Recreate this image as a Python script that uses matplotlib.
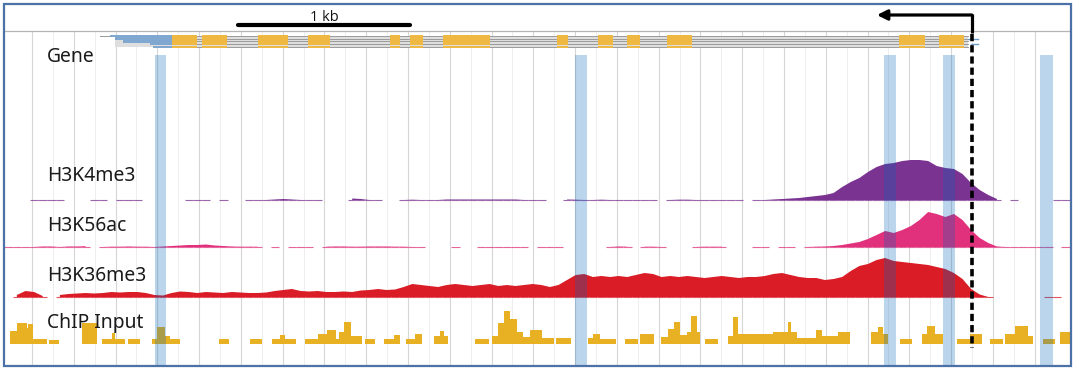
import numpy as np
import matplotlib.pyplot as plt
from matplotlib.patches import Rectangle

nan = np.nan

# ---------------- data (genomic positions in bp, 0 = left edge of panel) ----------------
BIN = 50  # bp per signal bin

# signal heights per 50 bp bin (track units = pixels of the original track), nan = no reads
k4me3 = [nan, nan, nan, 0, 0, 0, 0, nan, nan, nan,
         0, 0, nan, 0, 0, 0, nan, nan, nan, nan,
         nan, 0, 0, 0, nan, 0, nan, nan, 0, 0,
         0, 0.5, 1, 0.5, 0, 0, 0, nan, nan, nan,
         1.5, 1, 0, 0, nan, nan, 0, 0.3, 0, 0,
         0, 0.5, 0.5, 0.5, 0.5, 0.5, 0.5, 0.5, 0.5, 0.5,
         0, 0, 0, nan, nan, 0.5, 0.3, 0, 0, 0.3,
         0, 0, 0, 0, 0, 0, nan, 0, 0.3, 0.3,
         0, 0, 0, 0, 0, 0, nan, 0, 0, 0.5,
         1, 1.5, 2, 3, 4, 5, 7, 13, 18, 22,
         28, 33, 36, 37, 39, 40, 40, 39, 34, 32,
         31, 26, 17, 10, 5, 1, nan, 0, nan, nan,
         nan, nan, 0, 0]

k56ac = [0, 0, 0, 0, 0.5, 0.5, 0, 0.5, 0.5, 0.8,
         nan, 0, 0.3, 0.3, 0.5, 0.3, 0.3, 0, 0.5, 1,
         1.5, 2, 2, 2.5, 1.5, 1, 0.5, 0.3, 0.3, 0.3,
         nan, 0.3, nan, 0.3, 0.3, 0.3, nan, 0.3, 0.5, 0.5,
         0.3, 0.3, 0.5, 0.5, 0.5, 0.3, 0.3, 0, 0, nan,
         nan, nan, 0, nan, nan, 0, 0, 0, 0, 0,
         0, nan, 0, 0, 0, nan, nan, nan, nan, nan,
         0, 0.5, 0.3, nan, 0.3, 0.3, 0, nan, nan, nan,
         0, 0.3, 0.3, 0.3, nan, nan, nan, 0, 0, nan,
         0, 0, nan, 0, 0.3, 0.5, 1, 2, 3.5, 5,
         8, 12, 16, 14, 17, 21, 27, 35, 33, 30,
         33, 27, 17, 9, 4, 0.5, 0, 0, 0, 0,
         0, 0, nan, 0]

k36me3 = [nan, 2, 6, 5, 1, nan, 2, 3, 3.5, 4,
          3.5, 4, 5, 4.5, 5, 5, 4, 2, 1.5, 4,
          5.5, 5, 4, 5, 4.5, 4, 5, 4.5, 4, 4,
          4.5, 6, 7, 8, 6, 5.5, 6, 5, 5, 5.5,
          5, 6.5, 7, 8, 7, 7.5, 10, 13, 12, 11,
          10, 12, 13, 12, 11, 12, 13, 11, 12, 11,
          12, 13, 12, 10, 12, 17, 22, 23, 20, 21,
          20, 21, 20, 22, 24, 23, 20, 21, 20, 21,
          20, 19, 20, 21, 20, 19, 20, 20, 21, 23,
          24, 22, 20, 19, 19, 17, 18, 20, 26, 31,
          33, 37, 39, 36, 35, 34, 33, 32, 30, 28,
          24, 18, 8, 2.5, 0, nan, nan, nan, nan, nan,
          nan, 0, 0, nan]

# ChIP input blocks
chip_start = [35, 76, 134, 140, 169, 262, 454, 570, 628, 646, 721, 861, 890, 936, 966,
              1250, 1431, 1559, 1605, 1634, 1751, 1826, 1879, 1931, 1948, 1977, 2018,
              2099, 2210, 2268, 2338, 2390, 2501, 2536, 2559, 2739, 2838, 2873, 2908,
              2943, 2983, 3018, 3059, 3129, 3210, 3396, 3425, 3466, 3611, 3699, 3821,
              3861, 3896, 3931, 3972, 3995, 4030, 4077, 4210, 4239, 4270, 4472, 4559,
              4577, 4612, 4722, 4757, 4850, 5042, 5083, 5112, 5211, 5338, 5368, 5414,
              5542, 5618, 5734, 5821, 5879, 5955, 6042, 6141]
chip_end = [76, 134, 140, 169, 250, 320, 541, 628, 646, 704, 791, 890, 936, 966, 1024,
            1309, 1501, 1605, 1634, 1698, 1826, 1879, 1931, 1948, 1977, 2018, 2082,
            2158, 2268, 2303, 2390, 2431, 2536, 2559, 2582, 2821, 2873, 2908, 2943,
            2983, 3018, 3059, 3129, 3199, 3297, 3425, 3466, 3559, 3687, 3780, 3861,
            3896, 3931, 3972, 3995, 4030, 4047, 4152, 4239, 4270, 4472, 4559, 4577,
            4612, 4722, 4757, 4850, 4920, 5083, 5112, 5141, 5280, 5368, 5414, 5461,
            5618, 5687, 5809, 5879, 5955, 5984, 6112, 6200]
chip_height = [13, 21, 16, 20, 5, 4, 21, 5, 11, 5, 5, 5, 17, 8, 5,
               5, 5, 5, 9, 5, 5, 10, 14, 5, 12, 22, 8,
               5, 5, 9, 5, 10, 8, 13, 8, 5, 8, 21, 33,
               25, 12, 7, 14, 6, 6, 6, 10, 5, 5, 10, 7,
               15, 22, 9, 12, 28, 12, 5, 8, 27, 10, 12, 22,
               12, 6, 14, 8, 12, 12, 17, 10, 5, 10, 18, 10,
               5, 10, 5, 10, 18, 8, 5, 12]

# gene model: transcripts, 3' UTR and exons
tx_start = [558, 646, 692, 849, 867]
tx_end = [5606, 5606, 5606, 5606, 5606]
utr_end = 977
exon_start = [977, 1151, 1477, 1768, 2245, 2361, 2553, 3216, 3454, 3623, 3855, 5204, 5437]
exon_end = [1122, 1297, 1651, 1896, 2303, 2436, 2826, 3280, 3541, 3698, 4001, 5356, 5582]

# highlighted positions, TSS, scale bar
band_start = [881, 3323, 5117, 5460, 6024]
band_end = [945, 3390, 5187, 5530, 6100]
tss = 5629
arrow_tip = 5077
scalebar_start = 1361
scalebar_len = 1000

labels = ["Gene", "H3K4me3", "H3K56ac", "H3K36me3", "ChIP Input"]

# ---------------- layout (pixel rows of the figure, y down) ----------------
W, H = 1075, 369
BP_PER_PX = 6200 / 1066.0
X0 = 4


def bp(px):
    return (px - X0) * BP_PER_PX


base_k4, base_k56, base_k36, base_in = 200, 247, 297, 344
label_y = [62, 181, 231, 281, 328]
header_y = 31
band_top = 55

fig = plt.figure(figsize=(W / 100, H / 100), dpi=100)
ax = fig.add_axes([0, 0, 1, 1])
ax.set_xlim(bp(0), bp(W))
ax.set_ylim(H, 0)
ax.axis("off")

# grid
grid_x = np.arange(bp(32), 6200, 243)
ax.vlines(grid_x, header_y, 366, color="#d6d6d6", lw=0.8, zorder=1)
ax.vlines(grid_x[:-1] + 121.5, header_y, 366, color="#eeeeee", lw=0.7, zorder=1)
ax.plot([bp(4), bp(1070)], [header_y, header_y], color="#b5b5b5", lw=0.9, zorder=1)

# gene track
rows = 35.6 + 2.9 * np.arange(5)
ax.fill_between([tx_start[1], tx_end[0]], rows[0], rows[-1], color="#dedede", lw=0, zorder=2)
for r, s, e in zip(rows, tx_start, tx_end):
    u0 = s + 60 if r == rows[0] else s
    ax.plot([s, e], [r, r], color="#9a9a9a", lw=0.7, zorder=2)
    ax.bar(u0, 2.2, width=utr_end - u0, bottom=r - 1.1, align="edge",
           color="#7fa7cf", lw=0, zorder=3)
    ax.bar(exon_start, 2.2, width=np.subtract(exon_end, exon_start), bottom=r - 1.1,
           align="edge", color="#efb843", lw=0, zorder=3)
ax.plot([tx_end[0], bp(978)], [rows[1], rows[1]], color="#6f9cc9", lw=1.0, zorder=3)
ax.plot([tx_end[0] + 20, bp(978)], [rows[3], rows[3]], color="#6f9cc9", lw=1.0, zorder=3)

# signal tracks
left = np.arange(len(k4me3)) * BIN
centers = left + BIN / 2


def draw_signal(vals, base, color):
    v = np.array(vals, dtype=float)
    ok = ~np.isnan(v)
    ax.hlines(np.full(ok.sum(), base), left[ok], left[ok] + BIN, color=color, lw=0.8,
              alpha=0.75, zorder=3)
    ax.fill_between(centers, base, base - v, where=ok, color=color, lw=0, zorder=3)


draw_signal(k4me3, base_k4, "#7a3391")
draw_signal(k56ac, base_k56, "#e1307c")
draw_signal(k36me3, base_k36, "#d91c25")

ax.bar(chip_start, -np.array(chip_height), width=np.subtract(chip_end, chip_start),
       bottom=base_in, align="edge", color="#e8b123", lw=0, zorder=3)

# highlighted bands
ax.bar(band_start, 366 - band_top, width=np.subtract(band_end, band_start), bottom=band_top,
       align="edge", color=(0.0, 0.40, 0.73), alpha=0.27, lw=0, zorder=4)

# TSS arrow
ax.annotate("", xy=(arrow_tip, 15), xytext=(tss, 15),
            arrowprops=dict(arrowstyle="-|>", lw=2.3, color="black", mutation_scale=15,
                            shrinkA=0, shrinkB=0), zorder=5)
ax.plot([tss, tss], [14, 33], color="black", lw=2.3, solid_capstyle="butt", zorder=5)
ax.plot([tss, tss], [34, 348], color="black", lw=2.6, dashes=(2.0, 1.1), zorder=5)

# scale bar
ax.plot([scalebar_start, scalebar_start + scalebar_len], [25, 25], color="black", lw=3,
        solid_capstyle="round", zorder=5)
ax.text(scalebar_start + scalebar_len / 2, 21, "1 kb", ha="center", va="baseline",
        fontsize=10.5, family=["Open Sans", "DejaVu Sans"], color="#111111")

# labels
for lab, y in zip(labels, label_y):
    ax.text(bp(47), y, lab, va="baseline", ha="left", fontsize=13.9,
            family=["Noto Sans", "DejaVu Sans"], color="#1a1a1a", zorder=6)

# frame
fig.patches.append(Rectangle((3.5 / W, 3 / H), 1067 / W, 362 / H, transform=fig.transFigure,
                             fill=False, edgecolor="#4a72a6", lw=1.6))

fig.savefig("out.png", dpi=100)
